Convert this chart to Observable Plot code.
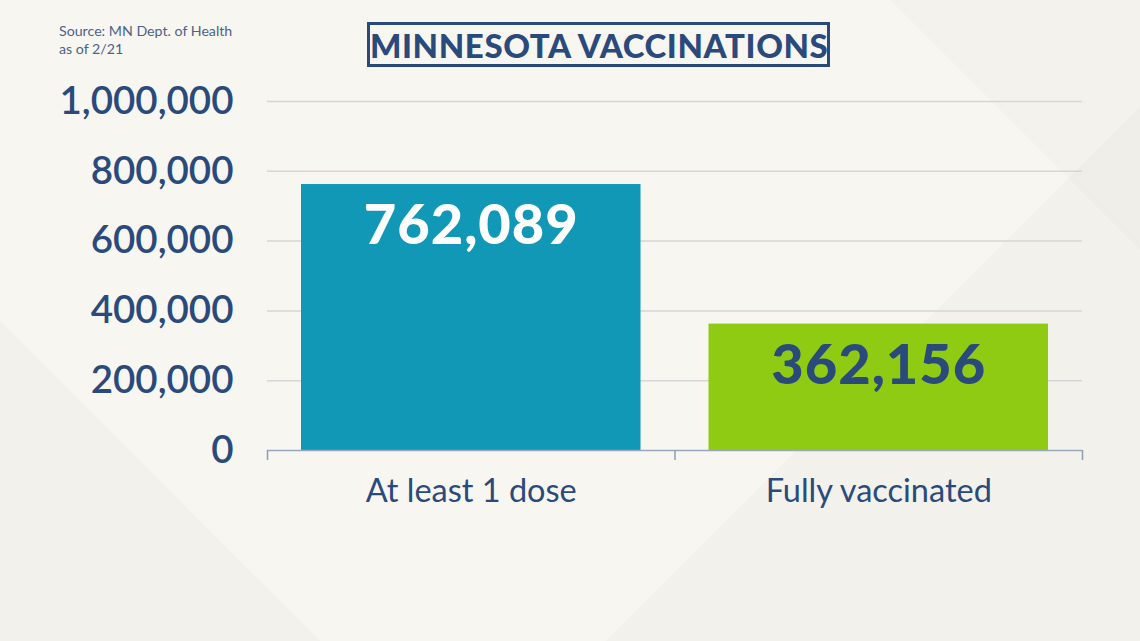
<!DOCTYPE html>
<html>
<head>
<meta charset="utf-8">
<script src="https://cdn.jsdelivr.net/npm/d3@7"></script>
<script src="https://cdn.jsdelivr.net/npm/@observablehq/plot@0.6"></script>
<style>
  html, body { margin: 0; padding: 0; }
  body {
    width: 1140px; height: 641px; overflow: hidden; position: relative;
    background-color: #f7f6f1;
    background-image:
      linear-gradient(135deg, rgba(0,0,0,0) 0 70%, rgba(120,110,90,0.035) 70% 100%),
      linear-gradient(45deg, rgba(120,110,90,0.04) 0 18%, rgba(0,0,0,0) 18% 100%),
      linear-gradient(225deg, rgba(120,110,90,0.03) 0 14%, rgba(0,0,0,0) 14% 100%);
    font-family: Lato, "Open Sans", sans-serif;
  }
  #source {
    position: absolute; left: 59px; top: 22px;
    font-size: 14.2px; line-height: 18px; color: #4d6288;
    font-family: Lato, sans-serif;
  }
  #title {
    position: absolute; left: 367px; top: 22px; width: 457px; height: 39px;
    border: 3px solid #2b4a7c; box-sizing: content-box;
    color: #2b4a7c; font-weight: 900; font-size: 33px; line-height: 40px;
    text-align: center; letter-spacing: 0.6px; font-family: Lato, sans-serif;
    white-space: nowrap;
  }
  #chart { position: absolute; left: 0; top: 0; }
  .vals text { letter-spacing: 1px; }
</style>
</head>
<body>
<div id="source">Source: MN Dept. of Health<br>as of 2/21</div>
<div id="title">MINNESOTA VACCINATIONS</div>
<div id="chart"></div>
<script>
const categories = ["At least 1 dose", "Fully vaccinated"];
const values = [762089, 362156];
const barColors = ["#1198b7", "#8fcb13"];
const labelColors = ["#ffffff", "#2b4a7c"];
const yTicks = [0, 200000, 400000, 600000, 800000, 1000000];

const data = categories.map((c, i) => ({
  category: c, value: values[i], i,
  fill: barColors[i], labelColor: labelColors[i]
}));

const navy = "#2b4a7c";

const chart = Plot.plot({
  width: 1140,
  height: 641,
  marginLeft: 267,
  marginRight: 58,
  marginTop: 101,
  marginBottom: 191,
  style: { background: "transparent", fontFamily: "Lato, sans-serif", overflow: "visible" },
  x: { type: "linear", domain: [0, categories.length], axis: null },
  y: { type: "linear", domain: [0, 1000000], axis: null, label: null },
  marks: [
    Plot.ruleY(yTicks.filter(d => d > 0), { stroke: "#d6d6d6", strokeWidth: 1.5 }),
    Plot.rectY(data, {
      x1: d => d.i, x2: d => d.i + 1, y1: 0, y2: "value",
      fill: "fill", insetLeft: 34, insetRight: 34
    }),
    Plot.ruleY([0], { stroke: "#9aa6bc", strokeWidth: 1.5 }),
    Plot.axisX(d3.range(categories.length + 1), {
      tickSize: 10, tickFormat: () => "", stroke: "#8e9cb4", strokeWidth: 1.5, label: null
    }),
    Plot.axisY(yTicks, {
      tickSize: 0, tickPadding: 34, tickFormat: d3.format(","),
      fontSize: 38.5, fontWeight: 600, fill: navy, label: null
    }),
    Plot.text(data, {
      x: d => d.i + 0.5, y: "value", text: d => d3.format(",")(d.value),
      dy: 42, fill: "labelColor", fontSize: 56, fontWeight: 900, className: "vals"
    }),
    Plot.text(data, {
      x: d => d.i + 0.5, y: d => 0, text: "category",
      dy: 41, fill: navy, fontSize: 32.5
    })
  ]
});
document.getElementById("chart").appendChild(chart);
</script>
</body>
</html>
